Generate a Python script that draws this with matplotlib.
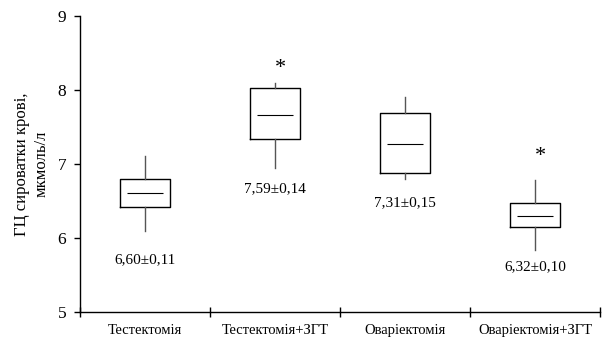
import matplotlib
matplotlib.use("Agg")
import matplotlib.pyplot as plt

categories = ["Тестектомія", "Тестектомія+ЗГТ", "Оваріектомія", "Оваріектомія+ЗГТ"]
whisker_low = [6.10, 6.95, 6.79, 5.84]
box_low = [6.42, 7.33, 6.87, 6.15]
medians = [6.60, 7.66, 7.27, 6.29]
box_high = [6.79, 8.03, 7.68, 6.47]
whisker_high = [7.10, 8.09, 7.90, 6.78]
value_labels = ["6,60±0,11", "7,59±0,14", "7,31±0,15", "6,32±0,10"]
label_y = [5.71, 6.67, 6.47, 5.61]
significant = [False, True, False, True]
star_y = [None, 8.29, None, 7.10]
yticks = [5, 6, 7, 8, 9]

plt.rcParams['font.family'] = ['Liberation Serif', 'DejaVu Serif']

fig = plt.figure(figsize=(6.04, 3.40), dpi=100)
ax = fig.add_axes([0.1325, 0.0824, 0.861, 0.8714])

stats = []
for i in range(len(categories)):
    stats.append(dict(med=medians[i], q1=box_low[i], q3=box_high[i],
                      whislo=whisker_low[i], whishi=whisker_high[i], fliers=[]))
pos = [1, 2, 3, 4]
width = 0.385
ax.bxp(stats, positions=pos, widths=width, showcaps=False, showfliers=False,
       boxprops=dict(color='black', linewidth=1.0),
       whiskerprops=dict(color='#555555', linewidth=1.0),
       medianprops=dict(linewidth=0))
mw = width * 0.72
ax.hlines(medians, [p - mw / 2 for p in pos], [p + mw / 2 for p in pos],
          colors='black', linewidth=0.8)

for i, p in enumerate(pos):
    ax.text(p, label_y[i], value_labels[i], ha='center', va='center', fontsize=11)
    if significant[i]:
        ax.text(p + 0.04, star_y[i], "*", ha='center', va='center', fontsize=16)

ax.set_xlim(0.5, 4.5)
ax.set_ylim(5, 9)
ax.set_yticks(yticks)
ax.set_yticklabels([str(v) for v in yticks], fontsize=12.5)
ax.tick_params(axis='y', direction='out', length=4, width=1, pad=6)

ax.set_xticks([0.5, 1.5, 2.5, 3.5, 4.5])
ax.set_xticklabels([])
ax.tick_params(axis='x', which='major', direction='inout', length=7, width=1)
ax.set_xticks(pos, minor=True)
ax.set_xticklabels(categories, minor=True, fontsize=10.5)
ax.tick_params(axis='x', which='minor', length=0, pad=9)

for s in ['top', 'right']:
    ax.spines[s].set_visible(False)
for s in ['left', 'bottom']:
    ax.spines[s].set_linewidth(1.0)

ax.set_ylabel("ГЦ сироватки крові,\nмкмоль/л", fontsize=12, linespacing=1.3, labelpad=6)

fig.savefig("out.png", dpi=100)
